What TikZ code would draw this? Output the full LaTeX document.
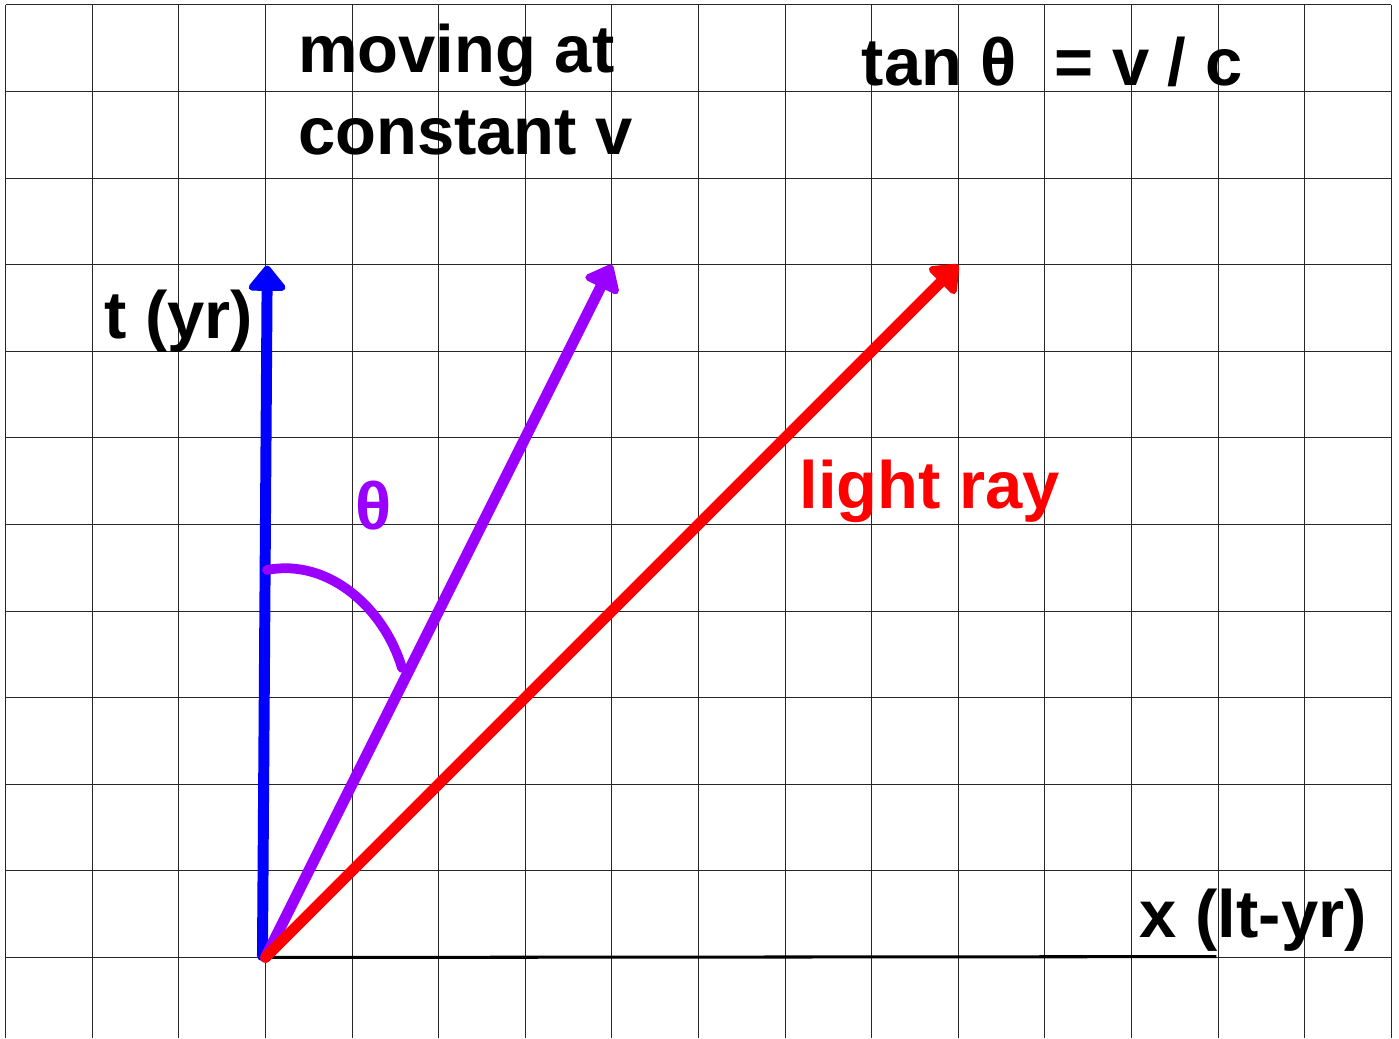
\documentclass[tikz,border=0pt]{standalone}
\usepackage{fontspec}
\setmainfont{Liberation Sans}
\usepackage{xcolor}
\usepackage{tikz}
\usetikzlibrary{arrows.meta}
\definecolor{worldBlue}{HTML}{0000FF}
\definecolor{movePurple}{HTML}{9900FF}
\definecolor{lightRed}{HTML}{FF0000}

\begin{document}
\begin{tikzpicture}[
        font=\fontsize{22}{26}\selectfont\bfseries,
        tag/.style={inner sep=0pt, anchor=base west},
        vec/.style={line width=3.6pt, line cap=round,
            -{Triangle[width=14pt, length=9pt, round]}}
    ]
        \useasboundingbox (-3.066,-0.93) rectangle (13.09,11.057);
        % paper grid
        \draw[black!85, line width=0.35pt] (-3,-0.93) grid (13,11);

        \coordinate (O) at (0,0);
        \coordinate (tFoot) at (-0.035,0.02);
        \coordinate (tTip) at (0.02,7.99);
        \coordinate (vTip) at (4,8);
        \coordinate (cTip) at (8,8);
        \coordinate (xEnd) at (10.98,0.01);

        \draw[line width=1pt] (O) -- (xEnd);
        \draw[vec, worldBlue] (tFoot) -- (tTip);
        \draw[vec, movePurple] (O) -- (vTip);
        \draw[vec, lightRed] (O) -- (cTip);

        % angle mark
        \coordinate (arcA) at (0.017,4.475);
        \coordinate (arcB) at (1.576,3.343);
        \draw[movePurple, line width=3.2pt, line cap=round]
            (arcA) .. controls (0.745,4.613) and (1.38,4.013) .. (arcB);

        \node[tag] (moving) at (0.37,10.22) {moving at};
        \node[tag] (constant) at (0.37,9.27) {constant v};
        \node[tag] (tanRule) at (6.88,10.075) {tan θ\ \ = v / c};
        \node[tag] (tAxis) at (-1.87,7.15) {t (yr)};
        \node[tag] (xAxis) at (10.09,0.225) {x (lt-yr)};
        \node[tag, text=lightRed] (ray) at (6.16,5.19) {light ray};
        \node[inner sep=0pt, anchor=base, text=movePurple] (theta) at (1.253,4.94) {θ};
    \end{tikzpicture}
\end{document}
